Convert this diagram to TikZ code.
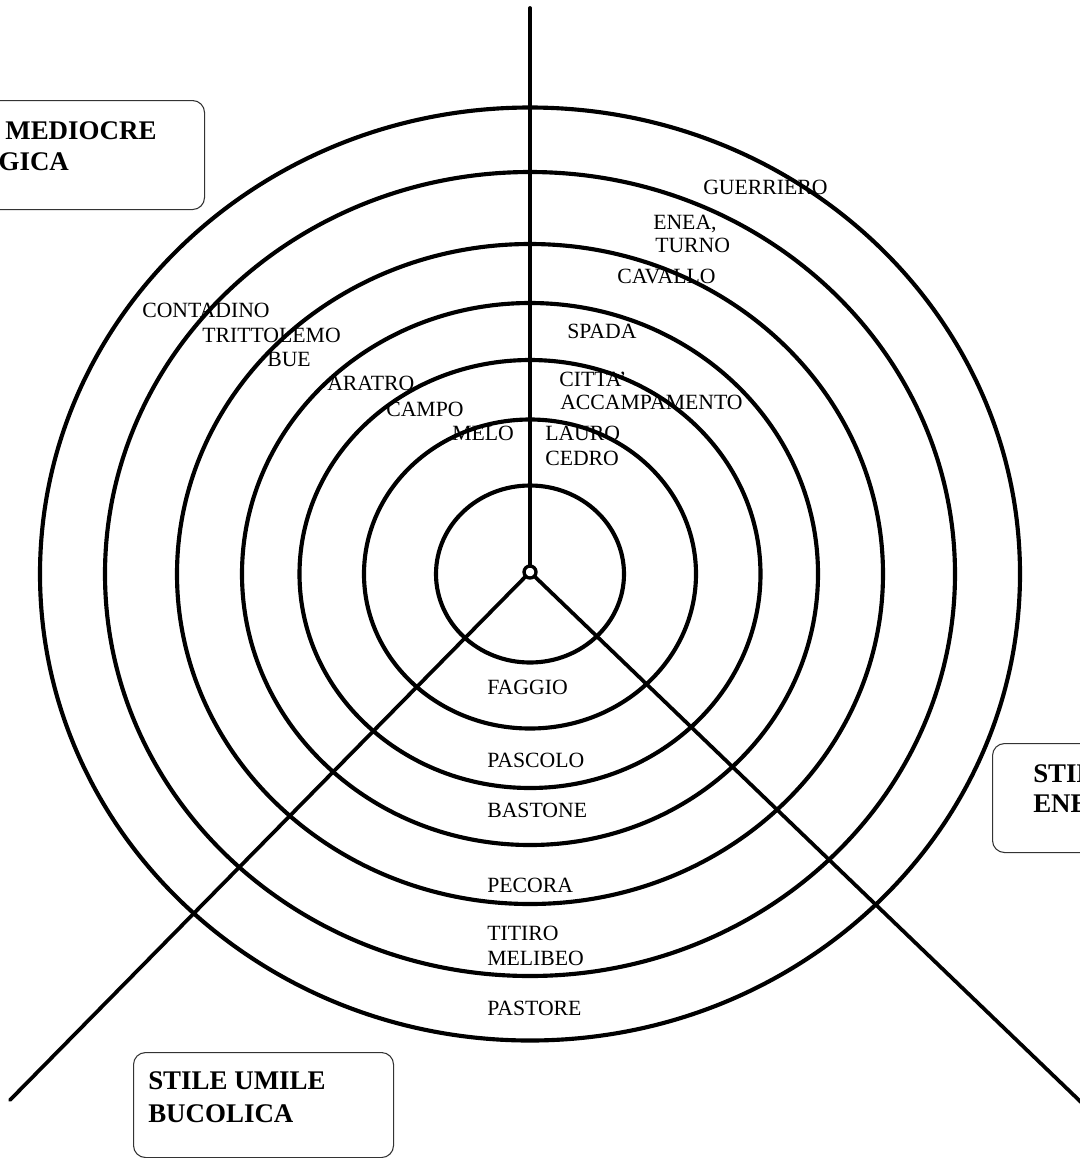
\documentclass[tikz,border=0pt]{standalone}
\usepackage{fontspec}
\setmainfont{Liberation Serif}
\usepackage{tikz}

\begin{document}
\begin{tikzpicture}[x=0.75pt, y=-0.75pt,
  ring/.style={draw=black, line width=3.1pt},
  spoke/.style={draw=black, line width=2.8pt},
  lab/.style={anchor=base west, inner sep=0pt, font=\fontsize{16.3}{18}\selectfont},
  stilebox/.style={draw=black!80, line width=0.8pt, rounded corners=9pt, anchor=north west, inner sep=0pt},
  stiletext/.style={anchor=base west, inner sep=0pt, font=\fontsize{20.2}{24}\selectfont\bfseries}]
\clip (0, 0) rectangle (1080, 1158);
\fill [white] (0, 0) rectangle (1080, 1158);

% rings
\foreach \rx/\ry in {94/88.5, 166/154.5, 230.5/214, 288/271, 353/330, 425/402, 490/466.5}
  \draw [ring] (530, 574) ellipse [x radius=\rx, y radius=\ry];

% spokes
\coordinate (hub) at (530, 572);
\coordinate (top) at (530, 8);
\coordinate (sw) at (10, 1100);
\coordinate (se) at (1110, 1130);
\draw [spoke, line cap=round] (hub) -- (top);
\draw [spoke, line cap=round] (hub) -- (sw);
\draw [spoke] (hub) -- (se);
\node (hubring) [circle, draw=black, line width=2.5pt, fill=white, minimum size=9pt, inner sep=0pt] at (hub) {};

% upper right
\node (guerriero) [lab] at (703, 194) {GUERRIERO};
\node (enea)      [lab] at (653, 229) {ENEA,};
\node (turno)     [lab] at (655, 252) {TURNO};
\node (cavallo)   [lab] at (617, 283) {CAVALLO};
\node (spada)     [lab] at (567, 338) {SPADA};
\node (citta)     [lab] at (559, 386) {CITTA'};
\node (accamp)    [lab] at (560, 409) {ACCAMPAMENTO};
\node (lauro)     [lab] at (545, 440) {LAURO};
\node (cedro)     [lab] at (545, 465) {CEDRO};

% upper left
\node (contadino)  [lab] at (142, 317) {CONTADINO};
\node (trittolemo) [lab] at (202, 342) {TRITTOLEMO};
\node (bue)        [lab] at (267, 366) {BUE};
\node (aratro)     [lab] at (327, 390) {ARATRO};
\node (campo)      [lab] at (386, 416) {CAMPO};
\node (melo)       [lab] at (452, 440) {MELO};

% bottom
\node (faggio)  [lab] at (487, 694) {FAGGIO};
\node (pascolo) [lab] at (487, 767) {PASCOLO};
\node (bastone) [lab] at (487, 817) {BASTONE};
\node (pecora)  [lab] at (487, 892) {PECORA};
\node (titiro)  [lab] at (487, 940) {TITIRO};
\node (melibeo) [lab] at (487, 965) {MELIBEO};
\node (pastore) [lab] at (487, 1015) {PASTORE};

% style boxes
\node (mediocre) [stilebox, minimum width=225pt, minimum height=81.75pt] at (-96, 100) {};
\node (mediocreA) [stiletext] at (-81, 139) {STILE MEDIOCRE};
\node (mediocreB) [stiletext] at (-81, 170) {GEORGICA};

\node (umile) [stilebox, minimum width=195pt, minimum height=78.75pt] at (133, 1052) {};
\node (umileA) [stiletext] at (148, 1089) {STILE UMILE};
\node (umileB) [stiletext] at (148, 1122) {BUCOLICA};

\node (sublime) [stilebox, minimum width=225pt, minimum height=81.75pt] at (992, 743) {};
\node (sublimeA) [stiletext] at (1033, 782) {STILE SUBLIME};
\node (sublimeB) [stiletext] at (1033, 812) {ENEIDE};
\end{tikzpicture}
\end{document}
